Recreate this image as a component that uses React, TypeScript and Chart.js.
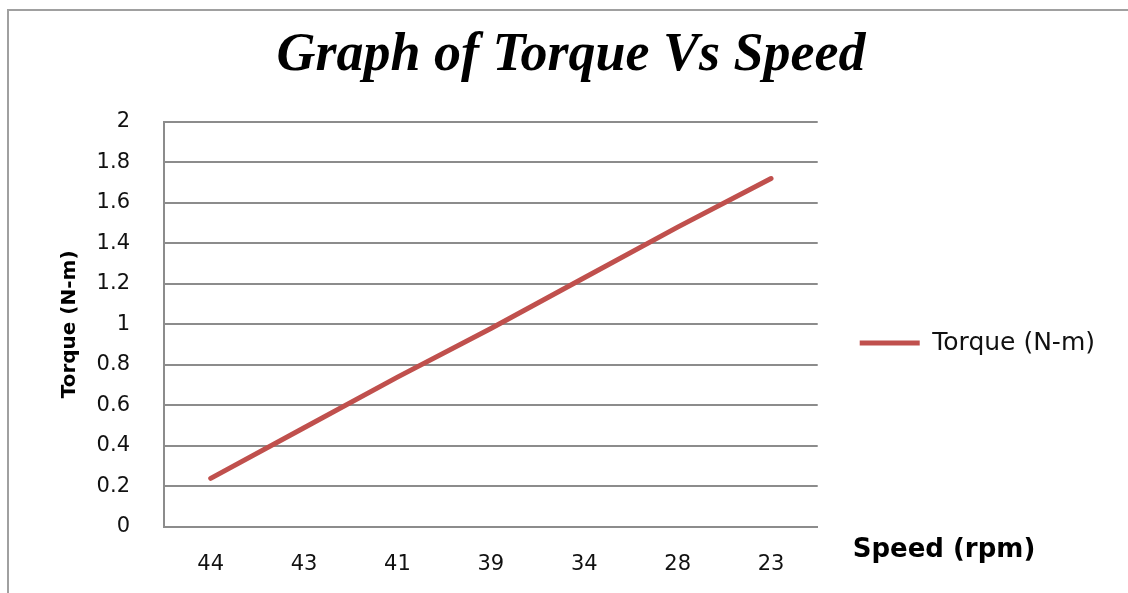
import React, { useEffect, useRef } from "react";
import { Chart, registerables } from "chart.js";

Chart.register(...registerables);

const categories = ["44", "43", "41", "39", "34", "28", "23"];
const torqueValues = [0.24, 0.49, 0.74, 0.98, 1.23, 1.48, 1.72];
const seriesLabel = "Torque (N-m)";
const chartTitle = "Graph of Torque Vs Speed";
const yAxisTitle = "Torque (N-m)";
const xAxisTitle = "Speed (rpm)";

const LINE_COLOR = "#C0504D";
const GRID_COLOR = "#8c8c8c";
const TEXT_COLOR = "#111111";

const xTitlePlugin = {
  id: "xTitlePlugin",
  afterDraw(chart: any) {
    const ctx = chart.ctx;
    const area = chart.chartArea;
    ctx.save();
    ctx.font = 'bold 26px "DejaVu Sans"';
    ctx.fillStyle = "#000";
    ctx.textAlign = "left";
    ctx.textBaseline = "middle";
    ctx.fillText(xAxisTitle, area.right + 35, area.bottom + 23);
    ctx.restore();
  },
};

export default function App() {
  const ref = useRef<HTMLCanvasElement | null>(null);

  useEffect(() => {
    if (!ref.current) return;
    const chart = new Chart(ref.current, {
      type: "line",
      data: {
        labels: categories,
        datasets: [
          {
            label: seriesLabel,
            data: torqueValues,
            borderColor: LINE_COLOR,
            backgroundColor: LINE_COLOR,
            borderWidth: 5,
            borderCapStyle: "round",
            pointRadius: 0,
            pointHoverRadius: 0,
            tension: 0,
            pointStyle: "line",
          },
        ],
      },
      options: {
        animation: false,
        responsive: false,
        maintainAspectRatio: false,
        layout: { padding: { top: 0, left: 37, right: 23, bottom: 0 } },
        plugins: {
          title: {
            display: true,
            text: chartTitle,
            color: "#000",
            font: { family: '"Liberation Sans Narrow", "Liberation Serif"', size: 54, style: "italic", weight: "bold", lineHeight: 1.2 },
            padding: { top: 24, bottom: 33 },
          },
          legend: {
            display: true,
            position: "right",
            maxWidth: 400,
            title: {
              display: true,
              text: " ",
              font: { size: 1, lineHeight: 1 },
              padding: { top: 92, bottom: 0 },
            },
            labels: {
              usePointStyle: true,
              pointStyleWidth: 60,
              boxHeight: 4,
              padding: 42,
              color: TEXT_COLOR,
              font: { family: '"DejaVu Sans"', size: 25 },
            },
          },
          tooltip: { enabled: false },
        },
        scales: {
          x: {
            offset: true,
            grid: { display: false, drawTicks: false },
            border: { display: true, color: GRID_COLOR, width: 2 },
            ticks: { color: TEXT_COLOR, font: { family: '"DejaVu Sans"', size: 21 }, padding: 25, maxRotation: 0 },
            afterFit(scale: any) {
              scale.height = 66;
            },
          },
          y: {
            min: 0,
            max: 2,
            ticks: {
              stepSize: 0.2,
              color: TEXT_COLOR,
              font: { family: '"DejaVu Sans"', size: 21 },
              padding: 34,
              callback: (v: any) => String(Math.round(Number(v) * 10) / 10),
            },
            grid: { color: GRID_COLOR, lineWidth: 2, drawTicks: false },
            border: { display: true, color: GRID_COLOR, width: 2 },
            title: {
              display: true,
              text: yAxisTitle,
              color: "#000",
              font: { family: '"DejaVu Sans"', size: 20, weight: "bold" },
              padding: { top: 21, bottom: 0 },
            },
            afterFit(scale: any) {
              scale.width = 127;
            },
          },
        },
      },
      plugins: [xTitlePlugin],
    });
    return () => chart.destroy();
  }, []);

  return (
    <div style={{ position: "fixed", left: 0, top: 0, width: 1128, height: 593, overflow: "hidden", background: "#fff" }}>
      <div
        style={{
          position: "absolute",
          left: 7,
          top: 9,
          width: 2000,
          height: 2000,
          borderLeft: "2px solid #a0a0a0",
          borderTop: "2px solid #a0a0a0",
        }}
      />
      <canvas ref={ref} width={1128} height={593} style={{ position: "absolute", left: 0, top: 0, width: 1128, height: 593 }} />
    </div>
  );
}
